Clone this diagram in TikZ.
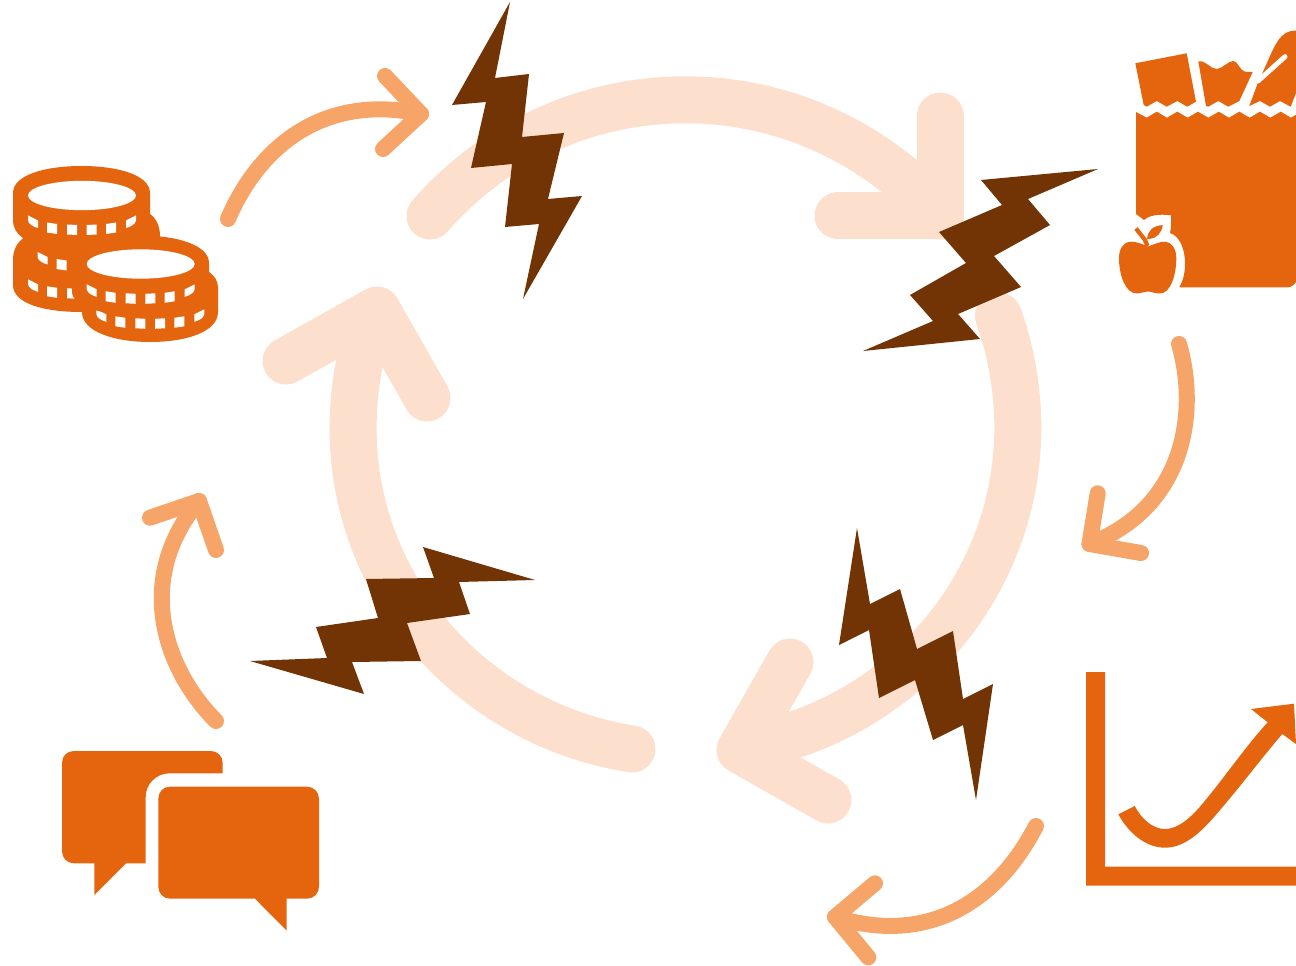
\documentclass[tikz,border=0pt]{standalone}
\usepackage{xcolor}
\definecolor{ringpeach}{RGB}{252,224,205}
\definecolor{thinpeach}{RGB}{247,164,104}
\definecolor{iconorange}{RGB}{229,101,15}
\definecolor{boltbrown}{RGB}{114,51,5}
\tikzset{
  ring/.style={draw=ringpeach,line width=35.25pt,line cap=round,line join=round},
  cyclearr/.style={draw=thinpeach,line width=12pt,line cap=round,line join=round},
  bolt/.style={fill=boltbrown},
  icon/.style={fill=iconorange},
}
\newcommand{\coinrow}[2]{%
  \begin{scope}[shift={(#1,#2)}]
    \fill[white] (0,0) -- (10,5) -- (10,12.5) .. controls (5,11) and (1,9) .. (0,5) -- cycle;
    \fill[white] (19,7) -- (29,8.5) -- (29,18.5) -- (19,17) -- cycle;
    \fill[white] (39,9) -- (49,9.5) -- (49,19.5) -- (39,19) -- cycle;
    \fill[white] (58.7,9.5) -- (68.7,9) -- (68.7,19) -- (58.7,19.5) -- cycle;
    \fill[white] (78,8.5) -- (88,7) -- (88,17) -- (78,18.5) -- cycle;
    \fill[white] (98,5) -- (108,0) -- (108,5) .. controls (107,9) and (103,11) .. (98,12.5) -- cycle;
  \end{scope}}
\begin{document}
\begin{tikzpicture}[x=0.75pt,y=-0.75pt]
  \useasboundingbox (0,0) rectangle (1296,966);

  % big cycle
  \draw[ring] (430,216) arc[start angle=221.03,end angle=318.97,radius=338.3];
  \draw[ring] (940,116) -- (940,216) -- (838,216);
  \draw[ring] (998.5,316) arc[start angle=-19.6,end angle=0,radius=333]
    arc[start angle=0,end angle=80.3,x radius=332,y radius=325];
  \draw[ring] (790,662) -- (740,750) -- (828,800);
  \draw[ring] (632,749) arc[start angle=99.2,end angle=180,x radius=332,y radius=325]
    arc[start angle=180,end angle=197,radius=332];
  \draw[ring] (286,361) -- (377,310) -- (427,398);

  % small arrows
  \draw[cyclearr] (228,219) .. controls (262,140) and (330,94) .. (421,114);
  \draw[cyclearr] (385,76) -- (421,114) -- (383,149);
  \draw[cyclearr] (1179,344) .. controls (1197,405) and (1190,505) .. (1089.5,544);
  \draw[cyclearr] (1097.7,493.3) -- (1089.5,544) -- (1141,553);
  \draw[cyclearr] (1036,826) .. controls (995,905) and (925,945) .. (835,917);
  \draw[cyclearr] (875,883.3) -- (835,917) -- (868.3,957.3);
  \draw[cyclearr] (216,721) .. controls (165,670) and (133,580) .. (199,501);
  \draw[cyclearr] (150,517.7) -- (199,501) -- (216,550);

  % lightning
  \fill[bolt] (510,2) -- (452,105) -- (486,102) -- (471,168) -- (512,164) -- (505,227) -- (539,224)
    -- (523,299) -- (582,196) -- (548,199) -- (564,133) -- (522,137) -- (529,74) -- (495,78) -- cycle;
  \fill[bolt] (1098,169) -- (981,180) -- (1002,205) -- (939,232) -- (966,263) -- (910,295) -- (933,321)
    -- (863,351) -- (980,339) -- (958,314) -- (1021,287) -- (994,256) -- (1050,225) -- (1028,199) -- cycle;
  \fill[bolt] (857,528) -- (839,645) -- (869,630) -- (879,698) -- (915,680) -- (933,740) -- (963,725)
    -- (976,800) -- (993,684) -- (963,699) -- (953,631) -- (917,649) -- (900,589) -- (870,604) -- cycle;
  \fill[bolt] (250,661) -- (364,694) -- (352,662) -- (421,661) -- (407,623) -- (470,614) -- (459,582)
    -- (535,580) -- (423,547) -- (434,578) -- (366,579) -- (378,618) -- (316,627) -- (327,658) -- cycle;

  % coins
  \fill[icon] (13,193) .. controls (13,175) and (45,166) .. (81.5,166) .. controls (118,166) and (150,175) .. (150,193)
    -- (150,214) .. controls (156,218) and (160,226) .. (160,236) -- (160,290) -- (81.5,312)
    .. controls (45,312) and (13,304) .. (13,285) -- (13,260) .. controls (13,250) and (17,243) .. (23,238)
    .. controls (17,234) and (13,228) .. (13,220) -- cycle;
  \coinrow{28}{215.5}
  \coinrow{37.5}{252}
  \coinrow{28}{279.3}
  \fill[icon] (82,312) .. controls (82,332) and (115,342) .. (150,342) .. controls (186,342) and (218,332) .. (218,312)
    -- (218,287) .. controls (218,281) and (214,275) .. (209,272) -- (120,272) -- cycle;
  \coinrow{96.3}{309.3}
  \fill[icon] (72,263) .. controls (72,245) and (104,235.5) .. (140.5,235.5) .. controls (177,235.5) and (209,245) .. (209,263)
    -- (209,292) .. controls (209,306) and (177,316) .. (140.5,316) .. controls (104,316) and (72,306) .. (72,292) -- cycle;
  \coinrow{86.7}{284.3}
  \fill[white] (82,195.5) ellipse[x radius=54,y radius=14.7];
  \fill[white] (140.7,264) ellipse[x radius=54,y radius=14.7];

  % groceries
  \fill[icon] (1135.3,63.3) -- (1186.7,53.3) -- (1196,101.7) -- (1187.3,106.7) -- (1177.3,101) -- (1166.7,106.7)
    -- (1156.7,101) -- (1146.7,106.7) -- (1143.7,105) -- cycle;
  \fill[icon] (1198.3,61.3) .. controls (1206,60) and (1210,69) .. (1216.7,69) .. controls (1222,69) and (1228,61) .. (1233.3,61)
    .. controls (1238,61) and (1240,71) .. (1245,71.7) -- (1252.7,72) -- (1239.3,101) -- (1228.3,106.7) -- (1218.3,101)
    -- (1208.3,106.7) -- (1206,106) -- cycle;
  \fill[icon] (1296,30.7) .. controls (1280,30) and (1275,45) .. (1265,67.3) -- (1258.3,81.7) -- (1249.3,106) -- (1260,101)
    -- (1270,106.7) -- (1280,101) -- (1290.7,106.7) -- (1296,93) -- cycle;
  \draw[white,line width=3.75pt,line cap=round] (1285,56.7) -- (1258,81);
  \fill[icon] (1136,112) -- (1146.7,117.7) -- (1156.7,111.7) -- (1167,117.7) -- (1177.3,111.7) -- (1187.6,117.7)
    -- (1198,111.7) -- (1208.3,117.7) -- (1218.7,111.7) -- (1229,117.7) -- (1239.3,111.7) -- (1249.7,117.7)
    -- (1260,111.7) -- (1270.3,117.7) -- (1280.7,111.7) -- (1291,117.7) -- (1296,114.7) -- (1296,282)
    .. controls (1294,285) and (1291,287.3) .. (1288,287.3) -- (1179.3,287.3) .. controls (1184,279) and (1185,271) .. (1185,263)
    .. controls (1185,250) and (1180,236) .. (1170,233) .. controls (1171.5,227) and (1171,221) .. (1171,215.3)
    .. controls (1165,214.5) and (1151,213.5) .. (1144,220) -- (1136,214) -- cycle;
  \fill[icon] (1148,246.5) .. controls (1142,244) and (1136,241.5) .. (1131,241.7)
    .. controls (1123,242) and (1119,249) .. (1119,258.3) .. controls (1119,274) and (1125,293.5) .. (1136.7,293.5)
    .. controls (1141,293.5) and (1144,291.5) .. (1147.7,291.5) .. controls (1151,291.5) and (1155,293.5) .. (1160,293.5)
    .. controls (1171,293.5) and (1176.3,274) .. (1176.3,258.3) .. controls (1176.3,249) and (1172,242) .. (1165,241.7)
    .. controls (1160,241.5) and (1155,244) .. (1148,246.5) -- cycle;
  \draw[iconorange,line width=3.2pt] (1136,228.5) -- (1145,240) -- (1147.5,246);
  \fill[icon] (1147,239) .. controls (1148,230) and (1153,226) .. (1162.7,225) .. controls (1162,233) and (1156,238.5) .. (1149.5,239) -- cycle;

  % chart
  \fill[icon] (1086,672) -- (1105,672) -- (1105,866.7) -- (1296,866.7) -- (1296,885.7) -- (1086,885.7) -- cycle;
  \fill[icon] (1118.3,814.3) -- (1134.7,806) .. controls (1141,818) and (1152,829) .. (1165,829)
    .. controls (1178,829) and (1190,818) .. (1200,806.7) .. controls (1222,781) and (1245,747) .. (1267.7,722.3)
    -- (1251,709) -- (1294,703.7) -- (1296,744) -- (1282.3,734) .. controls (1260,760) and (1240,787) .. (1220,810)
    .. controls (1205,828) and (1187,847.7) .. (1165,847.7) .. controls (1145,847.7) and (1128,832) .. (1118.3,814.3) -- cycle;

  % speech bubbles
  \fill[icon] (74,751) -- (210.7,751) .. controls (217.5,751) and (222.7,756) .. (222.7,763) -- (222.7,773.3) -- (170,773.3)
    .. controls (156,773.3) and (145.7,784) .. (145.7,797) -- (145.7,863.3) -- (126,863.3) -- (94.3,895) -- (94.3,863.3)
    -- (74,863.3) .. controls (67,863.3) and (62,858) .. (62,851) -- (62,763) .. controls (62,756) and (67,751) .. (74,751) -- cycle;
  \fill[icon] (170,786.7) -- (307,786.7) .. controls (314,786.7) and (319,792) .. (319,799) -- (319,886.7)
    .. controls (319,893) and (314,898.7) .. (307,898.7) -- (286.7,898.7) -- (286.7,930.7) -- (255,898.7) -- (170,898.7)
    .. controls (163,898.7) and (158.3,893) .. (158.3,886.7) -- (158.3,799) .. controls (158.3,792) and (163,786.7) .. (170,786.7) -- cycle;
\end{tikzpicture}
\end{document}
